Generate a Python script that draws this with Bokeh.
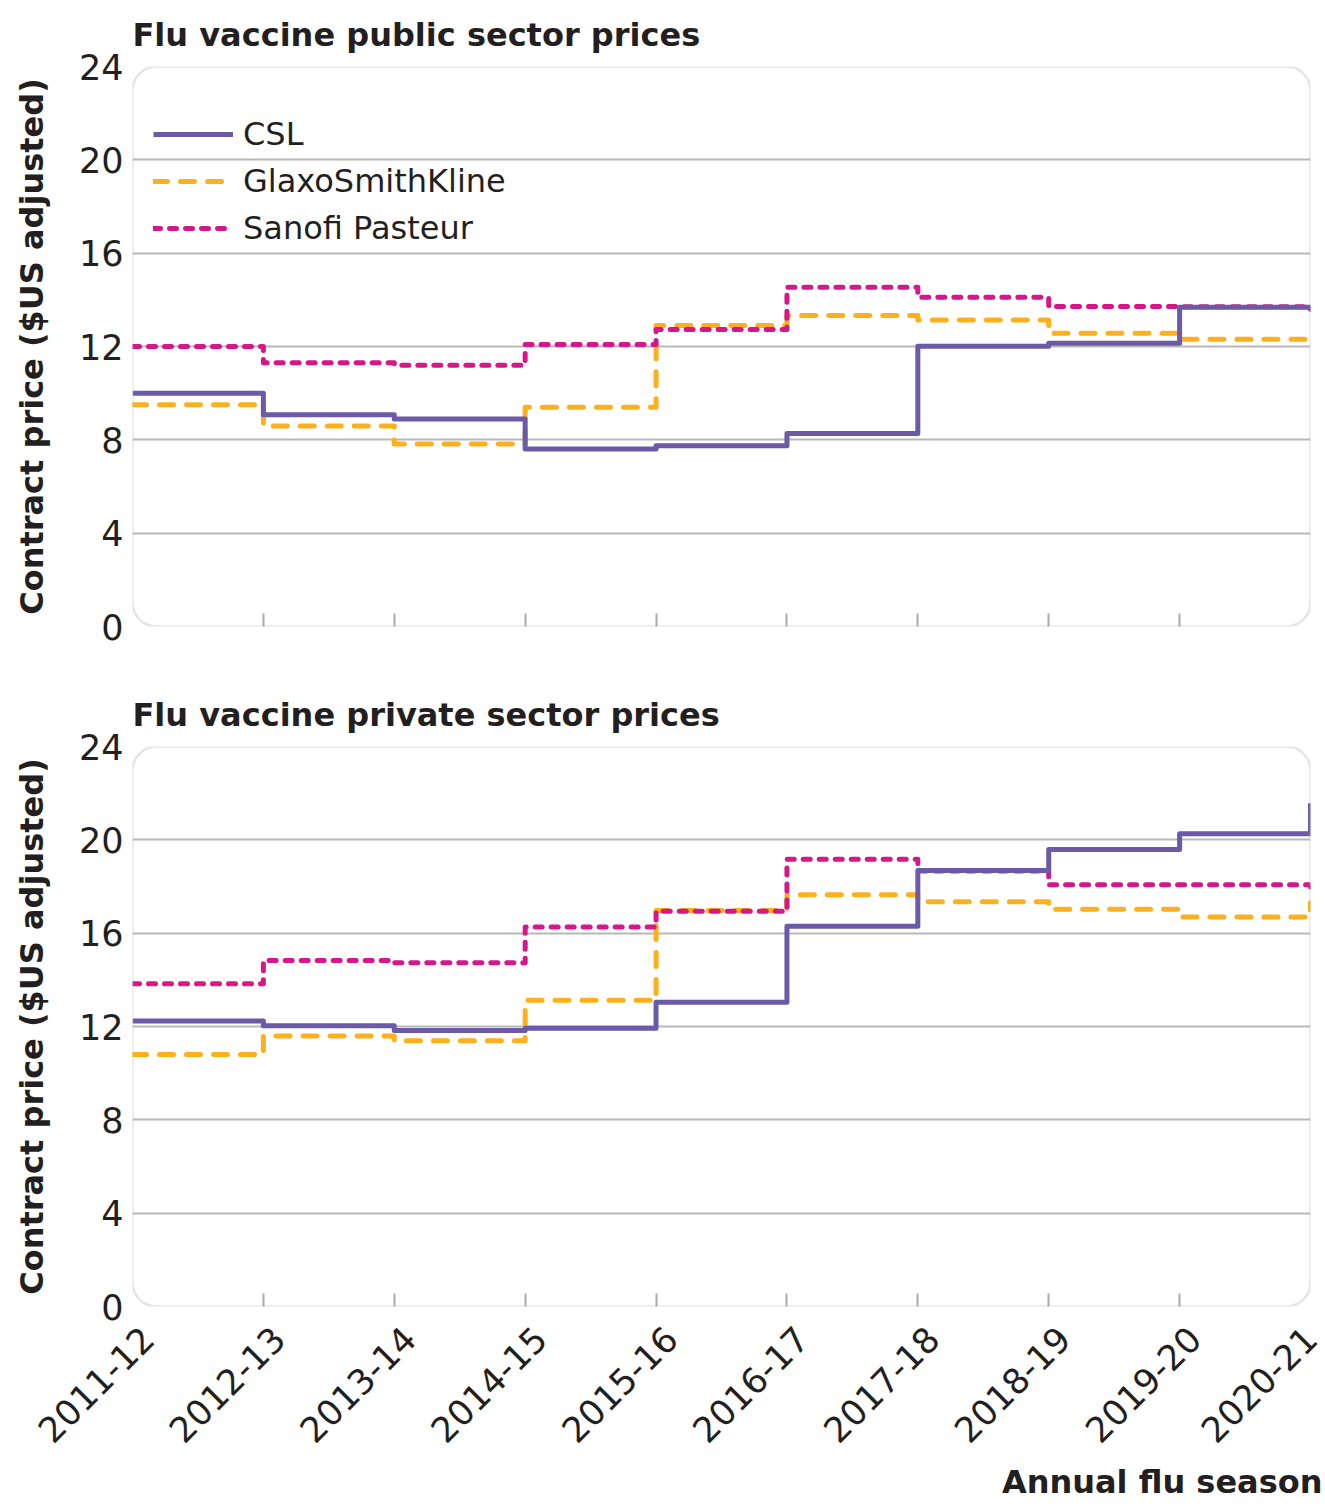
import math
from bokeh.plotting import figure
from bokeh.layouts import column
from bokeh.models import (FixedTicker, BoxAnnotation, Legend, LegendItem, Title,
                          Range1d, ColumnDataSource, LinearAxis, CustomLabelingPolicy)
from bokeh.embed import file_html
from bokeh.resources import INLINE

# ---------------- data ----------------
seasons = ["2011-12", "2012-13", "2013-14", "2014-15", "2015-16",
           "2016-17", "2017-18", "2018-19", "2019-20", "2020-21"]

public_csl = [10.0, 9.08, 8.89, 7.61, 7.75, 8.27, 12.01, 12.14, 13.68, 13.54]
public_gsk = [9.5, 8.59, 7.82, 9.4, 12.9, 13.33, 13.14, 12.57, 12.31, 12.3]
public_sanofi = [12.0, 11.3, 11.2, 12.09, 12.73, 14.54, 14.11, 13.71, 13.7, 13.6]

private_csl = [12.24, 12.03, 11.83, 11.93, 13.04, 16.3, 18.69, 19.59, 20.26, 21.57]
private_gsk = [10.8, 11.59, 11.39, 13.12, 16.97, 17.65, 17.35, 17.02, 16.69, 17.3]
private_sanofi = [13.83, 14.83, 14.73, 16.26, 16.94, 19.17, 18.66, 18.07, 18.07, 17.9]

y_ticks = [0, 4, 8, 12, 16, 20, 24]
grid_ticks = [4, 8, 12, 16, 20]

# ---------------- style ----------------
FONT = "DejaVu Sans"
TXT = "#231f20"
C_CSL = "#6a5aa8"
C_GSK = "#fdb01c"
C_SAN = "#d6168b"
GRID = "#b8b8b8"
FRAME = "#aaaaaa"

W = 1325
NUDGE = 0.115   # season labels sit slightly right of their ticks

NO_LABELS = """
try {
  for (const i of [...indices]) { indices.unset(i) }
} catch (e) {}
return indices
"""


def tick_only_axis(ax, ticks):
    ax.ticker = FixedTicker(ticks=ticks)
    ax.axis_line_color = None
    ax.major_tick_line_color = FRAME
    ax.major_tick_line_width = 2
    ax.major_tick_in = 13
    ax.major_tick_out = 0
    ax.minor_tick_line_color = None
    ax.major_label_policy = CustomLabelingPolicy(code=NO_LABELS)
    ax.major_label_overrides = {t: "" for t in ticks}
    ax.major_label_text_font_size = "1px"
    ax.major_label_standoff = 0


def make_panel(title, csl, gsk, san, height, top, bottom, legend):
    x = list(range(len(seasons)))
    src = ColumnDataSource(dict(x=x, csl=csl, gsk=gsk, san=san))
    p = figure(width=W, height=height, output_backend="svg", toolbar_location=None,
               x_range=Range1d(0, len(seasons) - 1), y_range=Range1d(0, 24),
               min_border_left=132, min_border_right=W - 1310,
               min_border_top=top, min_border_bottom=bottom)
    p.outline_line_color = None
    p.background_fill_color = "white"
    p.border_fill_color = "white"

    p.title.text = title
    p.title.text_font = FONT
    p.title.text_font_size = "32px"
    p.title.text_font_style = "bold"
    p.title.text_color = TXT
    p.title.align = "left"
    p.title.standoff = 26

    # grid
    p.xgrid.visible = False
    p.ygrid.ticker = FixedTicker(ticks=grid_ticks)
    p.ygrid.grid_line_color = GRID
    p.ygrid.grid_line_width = 2

    # y axis
    ya = p.yaxis[0]
    ya.ticker = FixedTicker(ticks=y_ticks)
    ya.axis_line_color = None
    ya.major_tick_line_color = None
    ya.minor_tick_line_color = None
    ya.major_label_text_font = FONT
    ya.major_label_text_font_size = "35px"
    ya.major_label_text_color = TXT
    ya.major_label_standoff = 3
    ya.axis_label = "Contract price ($US adjusted)"
    ya.axis_label_text_font = FONT
    ya.axis_label_text_font_size = "32px"
    ya.axis_label_text_font_style = "bold"
    ya.axis_label_text_color = TXT
    ya.axis_label_standoff = 25

    # x axis: tick marks only (pointing into the frame)
    tick_only_axis(p.xaxis[0], x[1:-1])

    # series (draw order: GSK, Sanofi, CSL)
    r_gsk = p.step("x", "gsk", source=src, mode="after", line_color=C_GSK,
                   line_width=5, line_dash="14 13", line_cap="round", line_join="round")
    r_san = p.step("x", "san", source=src, mode="after", line_color=C_SAN,
                   line_width=5, line_dash="7 9", line_cap="round", line_join="round")
    r_csl = p.step("x", "csl", source=src, mode="after", line_color=C_CSL,
                   line_width=5, line_join="round")

    # rounded frame
    box = BoxAnnotation(left=0, right=len(seasons) - 1, bottom=0, top=24,
                        fill_color=None, fill_alpha=0, line_color=FRAME,
                        line_width=2.5, border_radius=24)
    p.add_layout(box)

    if legend:
        leg = Legend(items=[LegendItem(label="CSL", renderers=[r_csl]),
                            LegendItem(label="GlaxoSmithKline", renderers=[r_gsk]),
                            LegendItem(label="Sanofi Pasteur", renderers=[r_san])],
                     location=(21, 375), orientation="vertical")
        leg.background_fill_alpha = 0
        leg.border_line_color = None
        leg.padding = 0
        leg.margin = 0
        leg.spacing = 1
        leg.glyph_width = 80
        leg.glyph_height = 46
        leg.label_height = 46
        leg.label_standoff = 10
        leg.label_text_font = FONT
        leg.label_text_font_size = "32px"
        leg.label_text_color = TXT
        p.add_layout(leg)
    return p


p1 = make_panel("Flu vaccine public sector prices", public_csl, public_gsk, public_sanofi,
                height=660, top=66, bottom=34, legend=True)
p2 = make_panel("Flu vaccine private sector prices", private_csl, private_gsk, private_sanofi,
                height=845, top=86, bottom=199, legend=False)

# season labels, nudged slightly right of their ticks as in the original
last = len(seasons) - 1
p2.extra_x_ranges = {"lab": Range1d(-NUDGE, last - NUDGE)}
lab_ticks = list(range(last)) + [last - NUDGE]
lab_axis = LinearAxis(x_range_name="lab", ticker=FixedTicker(ticks=lab_ticks),
                      major_label_overrides={t: s for t, s in zip(lab_ticks, seasons)},
                      major_label_orientation=math.pi / 4,
                      major_label_text_font=FONT, major_label_text_font_size="35px",
                      major_label_text_color=TXT, major_label_standoff=26,
                      axis_line_color=None, major_tick_line_color=None,
                      minor_tick_line_color=None, major_tick_in=0, major_tick_out=0)
p2.add_layout(lab_axis, "below")
p2.add_layout(Title(text="Annual flu season", align="right", offset=-12,
                    text_font=FONT, text_font_size="32px", text_font_style="bold",
                    text_color=TXT, standoff=6), "below")

layout = column(p1, p2, spacing=0)
open("out.html", "w").write(file_html(layout, INLINE))
